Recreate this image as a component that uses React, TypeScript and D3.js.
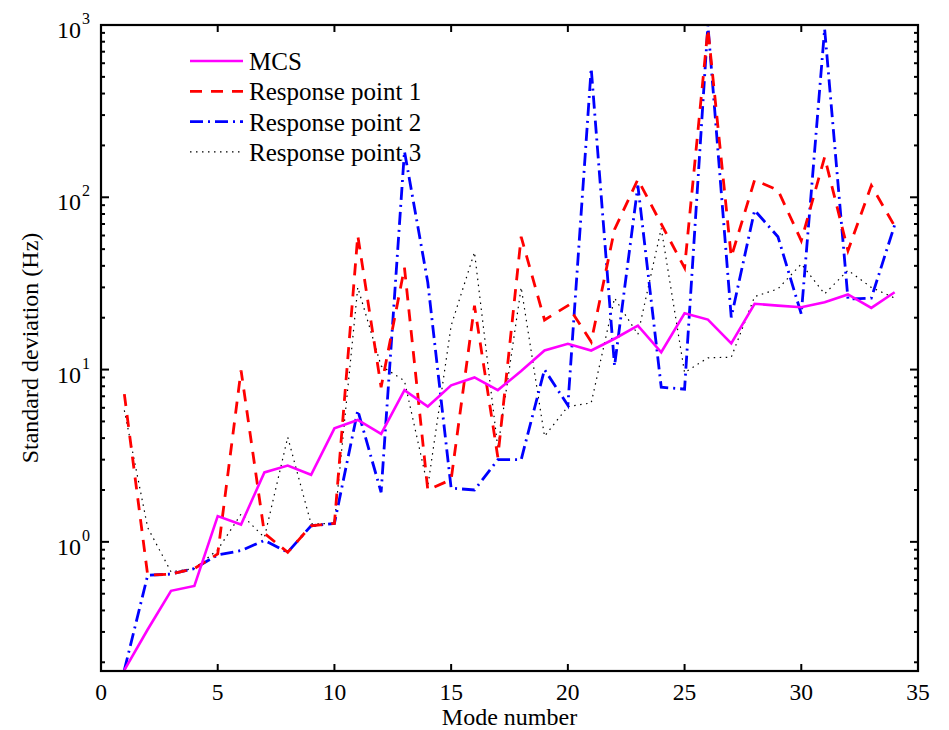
import React from "react";
import * as d3 from "d3";

const modes = d3.range(1, 35);
const mcs = [0.18, 0.31, 0.52, 0.555, 1.41, 1.26, 2.53, 2.77, 2.45, 4.56, 5.1, 4.23, 7.6, 6.1, 8.1, 9.0, 7.6, 9.8, 12.9, 14.1, 12.9, 15.1, 18.0, 12.6, 21.2, 19.5, 14.2, 24.1, 23.5, 23.0, 24.6, 27.3, 22.8, 28.1];
const rp1 = [7.2, 0.64, 0.65, 0.7, 0.85, 9.9, 1.12, 0.87, 1.24, 1.28, 60, 7.9, 39, 2.0, 2.3, 23.5, 3.1, 59, 19.4, 23.5, 14.5, 65, 127, 70, 39, 950, 45, 126, 110, 56, 171, 49, 117, 68];
const rp2 = [0.18, 0.64, 0.65, 0.7, 0.84, 0.89, 1.02, 0.87, 1.24, 1.28, 5.8, 1.94, 185, 32, 2.05, 2.0, 3.0, 3.0, 10, 6.2, 560, 10.5, 117, 7.9, 7.7, 1000, 20.1, 84, 59, 21, 950, 25.7, 26, 69];
const rp3 = [5.8, 1.21, 0.67, 0.7, 0.9, 1.45, 1.06, 4.05, 1.27, 1.28, 30, 10.5, 8.6, 2.1, 18, 48, 3.5, 30, 4.1, 6.1, 6.4, 26, 16, 66, 9.6, 11.7, 11.8, 26.5, 29.4, 41, 27.5, 37.7, 30, 26];
const seriesNames = ["MCS", "Response point 1", "Response point 2", "Response point 3"];
const xTicks = [0, 5, 10, 15, 20, 25, 30, 35];
const yMajor = [1, 10, 100, 1000];
const yExps = ["0", "1", "2", "3"];

const W = 949, H = 730;
const L = 101, R = 918, T = 25, B = 671;
const font = "'Liberation Serif', 'DejaVu Serif', 'Times New Roman', serif";

export default function App() {
  const x = d3.scaleLinear().domain([0, 35]).range([L, R]);
  const y = d3.scaleLog().domain([0.178, 1000]).range([B, T]);
  const line = d3.line<number>().x((_, i) => x(modes[i])).y((d) => y(d));

  const styles = [
    { data: mcs, color: "#ff00ff", width: 2.6, dash: "" },
    { data: rp1, color: "#ff0000", width: 2.8, dash: "12,9" },
    { data: rp2, color: "#0000ff", width: 2.8, dash: "13,5,2,5" },
    { data: rp3, color: "#000000", width: 1.2, dash: "1.5,4.5" },
  ];

  const minor: number[] = [];
  [0.1, 1, 10, 100].forEach((d) => {
    for (let k = 2; k <= 9; k++) {
      const v = d * k;
      if (v >= 0.178 && v < 1000) minor.push(v);
    }
  });

  const ts = (size: number) => ({ fontFamily: font, fontSize: size + "px" });

  return (
    <svg width={W} height={H} style={{ display: "block", position: "absolute", left: 0, top: 0, background: "#fff" }}>
      <defs>
        <clipPath id="plot">
          <rect x={L} y={T - 2} width={R - L} height={B - T + 4} />
        </clipPath>
      </defs>
      <rect x={0} y={0} width={W} height={H} fill="#fff" />
      <g clipPath="url(#plot)">
        {styles.slice().reverse().map((s, i) => (
          <path key={i} d={line(s.data) || ""} fill="none" stroke={s.color} strokeWidth={s.width} strokeDasharray={s.dash} strokeLinejoin="miter" />
        ))}
      </g>
      {xTicks.map((t) => (
        <g key={"xt" + t}>
          <line x1={x(t)} x2={x(t)} y1={B} y2={B - 7} stroke="#000" strokeWidth={2} />
          <line x1={x(t)} x2={x(t)} y1={T} y2={T + 7} stroke="#000" strokeWidth={2} />
          <text x={x(t)} y={700} textAnchor="middle" style={ts(23.5)} fill="#000">{t}</text>
        </g>
      ))}
      {yMajor.map((t, i) => (
        <g key={"ym" + t}>
          <line x1={L} x2={L + 8} y1={y(t)} y2={y(t)} stroke="#000" strokeWidth={2} />
          <line x1={R} x2={R - 8} y1={y(t)} y2={y(t)} stroke="#000" strokeWidth={2} />
          <text x={81} y={y(t) + 13} textAnchor="end" style={ts(24)} fill="#000">10</text>
          <text x={82} y={y(t) - 1} textAnchor="start" style={ts(16)} fill="#000">{yExps[i]}</text>
        </g>
      ))}
      {minor.map((t) => (
        <g key={"yn" + t}>
          <line x1={L} x2={L + 4} y1={y(t)} y2={y(t)} stroke="#000" strokeWidth={2} />
          <line x1={R} x2={R - 4} y1={y(t)} y2={y(t)} stroke="#000" strokeWidth={2} />
        </g>
      ))}
      <rect x={L} y={T} width={R - L} height={B - T} fill="none" stroke="#000" strokeWidth={2.2} />
      <text x={(L + R) / 2} y={725} textAnchor="middle" style={ts(24)} fill="#000">Mode number</text>
      <text transform={`translate(38, ${(T + B) / 2}) rotate(-90)`} textAnchor="middle" style={ts(24)} fill="#000">Standard deviation (Hz)</text>
      {styles.map((s, i) => {
        const ly = 61 + i * 30.3;
        return (
          <g key={"lg" + i}>
            <line x1={190} x2={243} y1={ly} y2={ly} stroke={s.color} strokeWidth={s.width} strokeDasharray={s.dash} />
            <text x={249} y={ly + 9} style={ts(25)} fill="#000">{seriesNames[i]}</text>
          </g>
        );
      })}
    </svg>
  );
}
